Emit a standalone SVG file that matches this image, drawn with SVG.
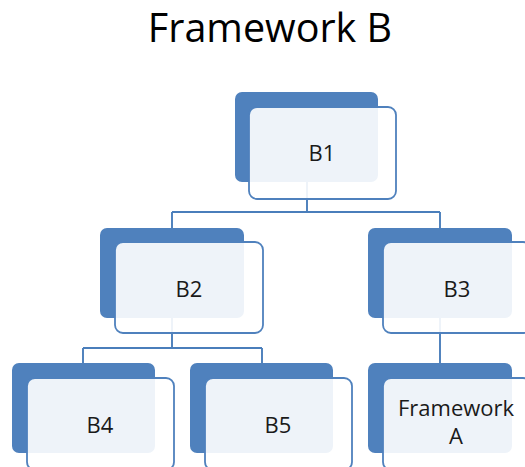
<svg xmlns="http://www.w3.org/2000/svg" width="525" height="467" viewBox="0 0 525 467">
<style>
.back{fill:#4F81BD;}
.front{fill:#FFFFFF;fill-opacity:0.9;stroke:#4F81BD;stroke-width:1.8;}
.lbl{font-family:"Open Sans","Noto Sans","DejaVu Sans",sans-serif;font-size:22px;fill:#1a1a1a;text-anchor:middle;}
.conn{fill:none;stroke:#4A7EBB;stroke-width:1.9;}
</style>
<rect width="525" height="467" fill="#FFFFFF"/>
<text x="270" y="42" style="font-family:'Open Sans','Noto Sans','DejaVu Sans',sans-serif;font-size:39.5px;fill:#000;text-anchor:middle;">Framework B</text>
<g id="connectors">
<path class="conn" d="M307 182 V212 M172 212 H440 M172 212 V228 M440 212 V228 M172 318 V348 M83 348 H262 M83 348 V363 M262 348 V363 M440 318 V363"/>
</g>
<g id="B1">
<rect class="back" x="235" y="92" width="143" height="90" rx="7"/>
<rect class="front" x="249" y="107" width="147" height="92" rx="8"/>
<text class="lbl" x="322" y="161">B1</text>
</g>
<g id="B2">
<rect class="back" x="100" y="228" width="144" height="90" rx="7"/>
<rect class="front" x="115" y="242" width="148" height="91" rx="8"/>
<text class="lbl" x="189" y="297">B2</text>
</g>
<g id="B3">
<rect class="back" x="368" y="228" width="144" height="90" rx="7"/>
<rect class="front" x="383" y="242" width="148" height="91" rx="8"/>
<text class="lbl" x="457" y="297">B3</text>
</g>
<g id="B4">
<rect class="back" x="12" y="363" width="143" height="90" rx="7"/>
<rect class="front" x="27" y="378" width="147" height="92" rx="8"/>
<text class="lbl" x="100" y="433">B4</text>
</g>
<g id="B5">
<rect class="back" x="190" y="363" width="143" height="90" rx="7"/>
<rect class="front" x="205" y="378" width="147" height="92" rx="8"/>
<text class="lbl" x="278" y="433">B5</text>
</g>
<g id="FrameworkA">
<rect class="back" x="368" y="363" width="144" height="90" rx="7"/>
<rect class="front" x="383" y="378" width="148" height="92" rx="8"/>
<text class="lbl" x="456" y="416">Framework</text>
<text class="lbl" x="456" y="444">A</text>
</g>
</svg>
